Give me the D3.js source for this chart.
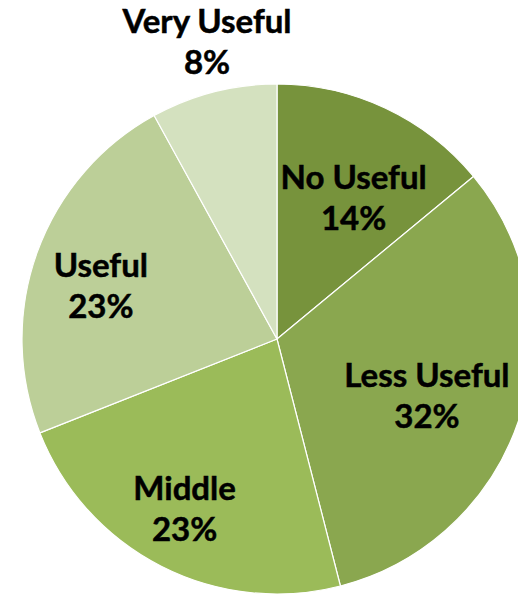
<!DOCTYPE html>
<html>
<head>
<meta charset="utf-8">
<script src="https://cdn.jsdelivr.net/npm/d3@7"></script>
<style>
  html, body { margin: 0; padding: 0; background: #ffffff; overflow: hidden; }
  svg { display: block; }
  .lbl { font-family: Lato, "Open Sans", sans-serif; font-weight: 700; fill: #000; stroke: #000; stroke-width: 0.5px; }
</style>
</head>
<body>
<svg id="chart" width="518" height="595"></svg>
<script>
// Survey answers, clockwise from twelve o'clock
const categories = ["No Useful", "Less Useful", "Middle", "Useful", "Very Useful"];
const shares = [14, 32, 23, 23, 8];
const colors = ["#77933c", "#8aa74f", "#9bbb59", "#bccf98", "#d4e1bf"];

// Label placement: distance from centre along the slice bisector (fraction of radius), plus a nudge
const labelRadius = [0.586, 0.643, 0.798, 0.705, 1.151];
const labelNudge = [[13, 6], [-6, 18], [0, 0], [-7, 19], [3, -1]];

const W = 518, H = 595;
const cx = 277, cy = 339, R = 255;
const fontSize = 33, lineGap = 41;

const svg = d3.select("#chart");
const g = svg.append("g").attr("transform", `translate(${cx},${cy})`);

const pie = d3.pie().value(d => d.value).sort(null);
const data = categories.map((c, i) => ({ name: c, value: shares[i], i }));
const arcs = pie(data);

const arc = d3.arc().innerRadius(0).outerRadius(R);

g.selectAll("path.slice")
  .data(arcs)
  .join("path")
  .attr("class", "slice")
  .attr("d", arc)
  .attr("fill", d => colors[d.data.i])
  .attr("stroke", "#ffffff")
  .attr("stroke-width", 1.2)
  .attr("stroke-linejoin", "round");

const total = d3.sum(shares);
const labels = g.selectAll("text.lbl")
  .data(arcs)
  .join("text")
  .attr("class", "lbl")
  .attr("text-anchor", "middle")
  .attr("font-size", fontSize)
  .attr("transform", d => {
    const a = (d.startAngle + d.endAngle) / 2;
    const r = R * labelRadius[d.data.i];
    const [nx, ny] = labelNudge[d.data.i];
    const x = Math.sin(a) * r + nx;
    const y = -Math.cos(a) * r + ny;
    return `translate(${x},${y})`;
  });

labels.append("tspan")
  .attr("x", 0)
  .attr("y", -lineGap / 2)
  .text(d => d.data.name);

labels.append("tspan")
  .attr("x", 0)
  .attr("y", lineGap / 2)
  .text(d => Math.round(d.data.value / total * 100) + "%");
</script>
</body>
</html>
